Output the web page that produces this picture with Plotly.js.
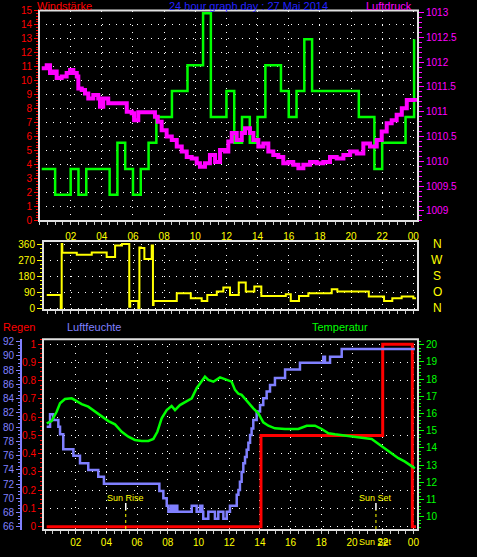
<!DOCTYPE html>
<html><head><meta charset="utf-8">
<script src="https://cdn.plot.ly/plotly-3.0.1.min.js"></script>
<style>html,body{margin:0;padding:0;background:#000;}#c{width:477px;height:557px;}</style>
</head><body><div id="c"></div>
<script>
// ---------- data ----------
var hourTickVals = [2,4,6,8,10,12,14,16,18,20,22,24];
var hourTickText = ["02","04","06","08","10","12","14","16","18","20","22","00"];

// top panel: wind speed (Windstärke), step series
var windH = [0.14,1.0,2.0,2.5,3.0,4.5,5.0,5.5,6.0,6.5,7.0,7.5,8.5,9.5,10.5,11.0,12.0,12.5,13.0,13.5,14.0,14.5,15.5,16.0,16.5,17.0,17.5,20.5,21.5,22.0,23.5,24.05];
var windV = [3.70,1.85,3.70,1.85,3.70,1.85,5.56,3.70,1.85,3.70,5.56,7.41,9.26,11.11,14.82,7.41,9.26,5.56,7.41,5.56,7.41,11.11,9.26,7.41,9.26,12.96,9.26,7.41,3.70,5.56,7.41,12.96];

// top panel: pressure (Luftdruck)
var presH = [0.14,0.46,0.67,0.88,1.10,1.42,1.74,1.96,2.17,2.39,2.49,2.71,2.92,3.13,3.45,3.77,3.88,4.09,4.41,4.85,5.28,5.60,5.92,6.07,6.34,6.77,7.20,7.41,7.59,7.84,8.16,8.49,8.81,9.13,9.45,9.77,10.09,10.30,10.62,10.94,11.27,11.59,11.91,12.12,12.34,12.66,12.98,13.19,13.51,13.73,14.05,14.37,14.69,15.01,15.33,15.65,15.97,16.29,16.62,16.94,17.37,17.80,18.22,18.65,19.08,19.51,19.94,20.37,20.79,21.22,21.65,21.97,22.29,22.61,22.93,23.26,23.58,23.90,24.11];
var presV = [1011.88,1011.94,1011.78,1011.81,1011.68,1011.71,1011.78,1011.84,1011.78,1011.71,1011.47,1011.44,1011.37,1011.27,1011.34,1011.27,1011.10,1011.27,1011.17,1011.17,1011.17,1011.00,1010.97,1010.83,1010.99,1010.99,1010.99,1010.90,1010.80,1010.63,1010.50,1010.43,1010.30,1010.20,1010.09,1010.06,1009.96,1009.89,1009.96,1010.13,1009.99,1010.23,1010.20,1010.40,1010.57,1010.43,1010.57,1010.67,1010.57,1010.43,1010.30,1010.36,1010.20,1010.13,1010.09,1009.96,1009.99,1009.93,1009.86,1009.93,1009.99,1009.96,1009.99,1010.09,1010.06,1010.13,1010.20,1010.16,1010.36,1010.30,1010.43,1010.60,1010.77,1010.83,1010.94,1011.07,1011.24,1011.24,1011.20];
var presTickVals = [1009,1009.5,1010,1010.5,1011,1011.5,1012,1012.5,1013];
var presTickText = ["1009","1009.5","1010","1010.5","1011","1011.5","1012","1012.5","1013"];

// middle panel: wind direction (degrees)
var dirH = [0.46,1.36,1.42,1.46,2.39,3.35,4.31,4.85,5.29,5.76,5.82,6.34,6.41,6.50,6.73,7.20,7.28,7.32,8.81,9.71,10.41,10.77,11.38,11.80,12.23,12.79,13.24,13.79,14.24,15.81,16.13,16.66,17.26,18.76,19.12,21.14,22.12,22.65,23.25,24.00,24.17];
var dirV = [75,0,360,311,300,313,287,351,360,9,41,0,341,337,276,352,19,41,84,56,41,75,94,116,75,144,94,122,69,79,41,69,84,107,94,66,41,56,66,56,56];
var dirTickVals = [0,90,180,270,360];
var compassVals = [360,270,180,90,0];
var compassText = ["N","W","S","O","N"];

// bottom panel
var tempH = [0.11,0.43,0.76,0.98,1.30,1.74,1.95,2.39,2.82,3.26,3.69,4.13,4.56,5.00,5.43,5.86,6.30,6.73,7.06,7.32,7.60,7.93,8.25,8.47,8.79,9.23,9.56,9.88,10.21,10.42,10.64,10.97,11.40,11.73,12.16,12.38,12.60,12.81,13.25,13.57,13.90,14.22,14.55,14.98,15.64,16.50,17.05,17.59,18.03,18.46,18.89,19.76,20.63,21.28,21.82,22.36,23.02,23.45,23.89,24.10];
var tempV = [15.43,15.56,16.10,16.59,16.84,16.88,16.78,16.55,16.40,16.10,15.85,15.56,15.37,14.94,14.65,14.46,14.40,14.40,14.52,14.94,15.72,16.20,16.44,16.20,16.49,16.73,16.88,17.47,17.85,18.14,17.95,17.85,18.10,18.00,17.85,17.37,17.15,17.08,16.59,16.30,16.01,15.49,15.29,15.14,15.10,15.10,15.29,15.29,15.10,14.85,14.79,14.71,14.59,14.52,14.17,13.78,13.40,13.20,12.91,12.81];

var humH = [0.11,0.33,0.54,0.87,0.98,1.19,1.85,2.28,2.82,3.47,3.84,7.45,7.71,7.93,8.04,8.21,8.36,8.47,8.62,9.56,9.88,10.10,10.25,10.31,10.64,11.07,11.29,11.62,11.84,12.05,12.49,12.60,12.70,12.81,12.92,13.03,13.14,13.25,13.36,13.46,13.57,13.79,14.01,14.22,14.44,14.66,14.98,15.64,16.61,18.13,18.24,18.57,19.33,24.10];
var humV = [80.05,81.8,81.0,80.05,79.0,76.9,75.98,74.9,73.97,73.03,72.04,71.02,70.0,68.95,68.1,68.95,68.1,68.95,68.1,68.95,68.1,68.95,68.1,67.1,68.1,67.1,68.1,67.1,68.1,68.95,70.5,71.16,72.3,73.7,74.9,75.8,76.8,77.8,78.9,79.8,81.0,82.2,83.1,84.05,85.0,85.9,86.9,88.1,89.05,89.9,89.05,89.9,90.98,90.98];

var rainH = [0.11,14.07,22.00,23.93,24.17];
var rainV = [0,0.5,1.0,0,0];

var sunH = [5.26,21.56];
var sunText = ["Sun Rise","Sun Set"];

// ---------- styling ----------
var W = 477, H = 557;
function px(x){return x/W;}
function py(y){return 1 - y/H;}
var FONT = "Liberation Sans Narrow, Arial Narrow, Liberation Sans, Arial, sans-serif";
var RED = "#ff0000", MAG = "#ff00ff", YEL = "#ffff00", GRN = "#00ff00", LAV = "#8080ff", BLUE = "#2222ff";
var GRIDDASH = "1px,6px";
var TF = 9;

var traces = [
  {x: presH, y: presV, xaxis:"x", yaxis:"y2", type:"scatter", mode:"lines", line:{color:MAG, width:4, shape:"hv"}},
  {x: windH, y: windV, xaxis:"x", yaxis:"y", type:"scatter", mode:"lines", line:{color:GRN, width:2.5, shape:"hv"}},
  {x: dirH, y: dirV, xaxis:"x2", yaxis:"y3", type:"scatter", mode:"lines", line:{color:YEL, width:2, shape:"hv"}},
  {x: humH, y: humV, xaxis:"x3", yaxis:"y5", type:"scatter", mode:"lines", line:{color:LAV, width:2.5, shape:"hv"}},
  {x: tempH, y: tempV, xaxis:"x3", yaxis:"y6", type:"scatter", mode:"lines", line:{color:GRN, width:2.5}},
  {x: rainH, y: rainV, xaxis:"x3", yaxis:"y4", type:"scatter", mode:"lines", line:{color:RED, width:3, shape:"hv"}}
];

function xAxis(domain, range, anchor, showLabels, standoff){
  return {domain: domain, range: range, anchor: anchor, tickmode:"array", tickvals: hourTickVals, ticktext: hourTickText,
    showticklabels: showLabels, tickfont:{family:FONT, size:TF+1, color:YEL}, ticks:"outside", ticklen:3, tickcolor:"#cccccc",
    ticklabelstandoff: standoff,
    minor:{tickmode:"linear", tick0:0, dtick:0.5, ticks:"outside", ticklen:3, tickcolor:"#cccccc", showgrid:false},
    showgrid:true, gridcolor:"#ffffff", griddash:GRIDDASH, gridwidth:1, zeroline:false, showline:false, fixedrange:true};
}

var layout = {
  width: W, height: H, margin:{l:0,r:0,t:0,b:0}, paper_bgcolor:"#000", plot_bgcolor:"#000",
  showlegend:false, hovermode:false, font:{family:FONT, color:"#fff"},
  xaxis: xAxis([px(39), px(418)], [-0.035, 24.30], "y", true, 3),
  xaxis2: xAxis([px(43), px(418)], [0.22, 24.30], "y3", false, 0),
  xaxis3: xAxis([px(43), px(418)], [-0.13, 24.30], "y4", true, 0),
  yaxis: {domain:[py(221), py(10.5)], range:[-0.02, 15.014], anchor:"x", tickmode:"linear", tick0:0, dtick:1,
    tickfont:{family:FONT, size:TF+1, color:RED}, ticks:"outside", ticklen:4, tickcolor:RED,
    minor:{tickmode:"linear", tick0:0, dtick:0.2, ticks:"outside", ticklen:2, tickcolor:RED, showgrid:false},
    showgrid:true, gridcolor:"#ffffff", griddash:GRIDDASH, zeroline:false, showline:false},
  yaxis2: {overlaying:"y", side:"right", anchor:"x", range:[1008.798, 1013.042], tickmode:"array", tickvals:presTickVals, ticktext:presTickText,
    tickfont:{family:FONT, size:TF+1, color:MAG}, ticks:"outside", ticklen:5, tickcolor:MAG,
    minor:{tickmode:"linear", tick0:1009, dtick:0.1, ticks:"outside", ticklen:3, tickcolor:MAG, showgrid:false},
    showgrid:false, zeroline:false, showline:false},
  yaxis3: {domain:[py(310), py(241)], range:[-9.5, 376.8], anchor:"x2", tickmode:"array", tickvals: dirTickVals,
    tickfont:{family:FONT, size:TF+1, color:YEL}, ticks:"outside", ticklen:5, tickcolor:YEL,
    minor:{tickmode:"linear", tick0:0, dtick:22.5, ticks:"outside", ticklen:2, tickcolor:YEL, showgrid:false},
    showgrid:true, gridcolor:"#ffffff", griddash:GRIDDASH, zeroline:false, showline:false},
  yaxis4: {domain:[py(530), py(339.3)], range:[-0.018, 1.027], anchor:"x3", tickmode:"linear", tick0:0, dtick:0.1,
    tickfont:{family:FONT, size:TF+1, color:RED}, ticks:"outside", ticklen:4, tickcolor:RED,
    minor:{tickmode:"linear", tick0:0, dtick:0.025, ticks:"outside", ticklen:2, tickcolor:RED, showgrid:false},
    showgrid:true, gridcolor:"#ffffff", griddash:GRIDDASH, zeroline:false, showline:false},
  yaxis5: {overlaying:"y4", anchor:"free", position: px(21), side:"left", range:[65.536, 92.337], tickmode:"linear", tick0:66, dtick:2,
    tickfont:{family:FONT, size:TF+1, color:LAV}, ticks:"outside", ticklen:4, tickcolor:LAV,
    minor:{tickmode:"linear", tick0:66, dtick:0.5, ticks:"outside", ticklen:2, tickcolor:LAV, showgrid:false},
    showline:true, linecolor:LAV, linewidth:2, showgrid:false, zeroline:false},
  yaxis6: {overlaying:"y4", anchor:"x3", side:"right", range:[9.227, 20.314], tickmode:"linear", tick0:10, dtick:1,
    tickfont:{family:FONT, size:TF+1, color:GRN}, ticks:"outside", ticklen:5, tickcolor:GRN,
    minor:{tickmode:"linear", tick0:10, dtick:0.2, ticks:"outside", ticklen:2, tickcolor:GRN, showgrid:false},
    showgrid:false, zeroline:false, showline:false},
  shapes: [
    {type:"rect", xref:"paper", yref:"paper", x0:px(39), x1:px(418), y0:py(221), y1:py(10.5), line:{color:"#e0e0e0", width:2}},
    {type:"rect", xref:"paper", yref:"paper", x0:px(43), x1:px(418), y0:py(310), y1:py(241), line:{color:"#e0e0e0", width:2}},
    {type:"rect", xref:"paper", yref:"paper", x0:px(43), x1:px(418), y0:py(530), y1:py(339.3), line:{color:"#e0e0e0", width:2}}
  ],
  annotations: [
    {text:"Windstärke", xref:"paper", yref:"paper", x:px(35), y:py(6), xanchor:"left", yanchor:"middle", showarrow:false, font:{family:FONT, size:11, color:RED}},
    {text:"24 hour graph day : 27 Mai 2014", xref:"paper", yref:"paper", x:px(248.5), y:py(6), xanchor:"center", yanchor:"middle", showarrow:false, font:{family:FONT, size:11, color:BLUE}},
    {text:"Luftdruck", xref:"paper", yref:"paper", x:px(389), y:py(6), xanchor:"center", yanchor:"middle", showarrow:false, font:{family:FONT, size:11, color:MAG}},
    {text:"Regen", xref:"paper", yref:"paper", x:px(1), y:py(327), xanchor:"left", yanchor:"middle", showarrow:false, font:{family:FONT, size:11, color:RED}},
    {text:"Luftfeuchte", xref:"paper", yref:"paper", x:px(93.5), y:py(327), xanchor:"center", yanchor:"middle", showarrow:false, font:{family:FONT, size:11, color:LAV}},
    {text:"Temperatur", xref:"paper", yref:"paper", x:px(339.5), y:py(327), xanchor:"center", yanchor:"middle", showarrow:false, font:{family:FONT, size:11, color:GRN}}
  ]
};

for (var i = 0; i < compassVals.length; i++) {
  layout.annotations.push({text: compassText[i], xref:"paper", yref:"y3", x:px(437), y: compassVals[i], xanchor:"center", yanchor:"middle",
    showarrow:false, font:{family:FONT, size:12, color:YEL}});
}
for (var j = 0; j < sunH.length; j++) {
  layout.annotations.push({text: sunText[j], xref:"x3", yref:"paper", x: sunH[j], y: py(497.7), xanchor:"center", yanchor:"middle",
    showarrow:false, font:{family:FONT, size:9, color:YEL}});
  layout.shapes.push({type:"line", xref:"x3", yref:"paper", x0:sunH[j], x1:sunH[j], y0:py(510), y1:py(503), line:{color:"#ffffff", width:1.5}});
  layout.shapes.push({type:"line", xref:"x3", yref:"paper", x0:sunH[j], x1:sunH[j], y0:py(529), y1:py(510), line:{color:YEL, width:1, dash:"dot"}});
}
layout.annotations.push({text: sunText[1], xref:"x3", yref:"paper", x: sunH[1], y: py(541.5), xanchor:"center", yanchor:"middle",
  showarrow:false, font:{family:FONT, size:9, color:YEL}});

Plotly.newPlot("c", traces, layout, {staticPlot:true, displayModeBar:false});
</script>
</body></html>
